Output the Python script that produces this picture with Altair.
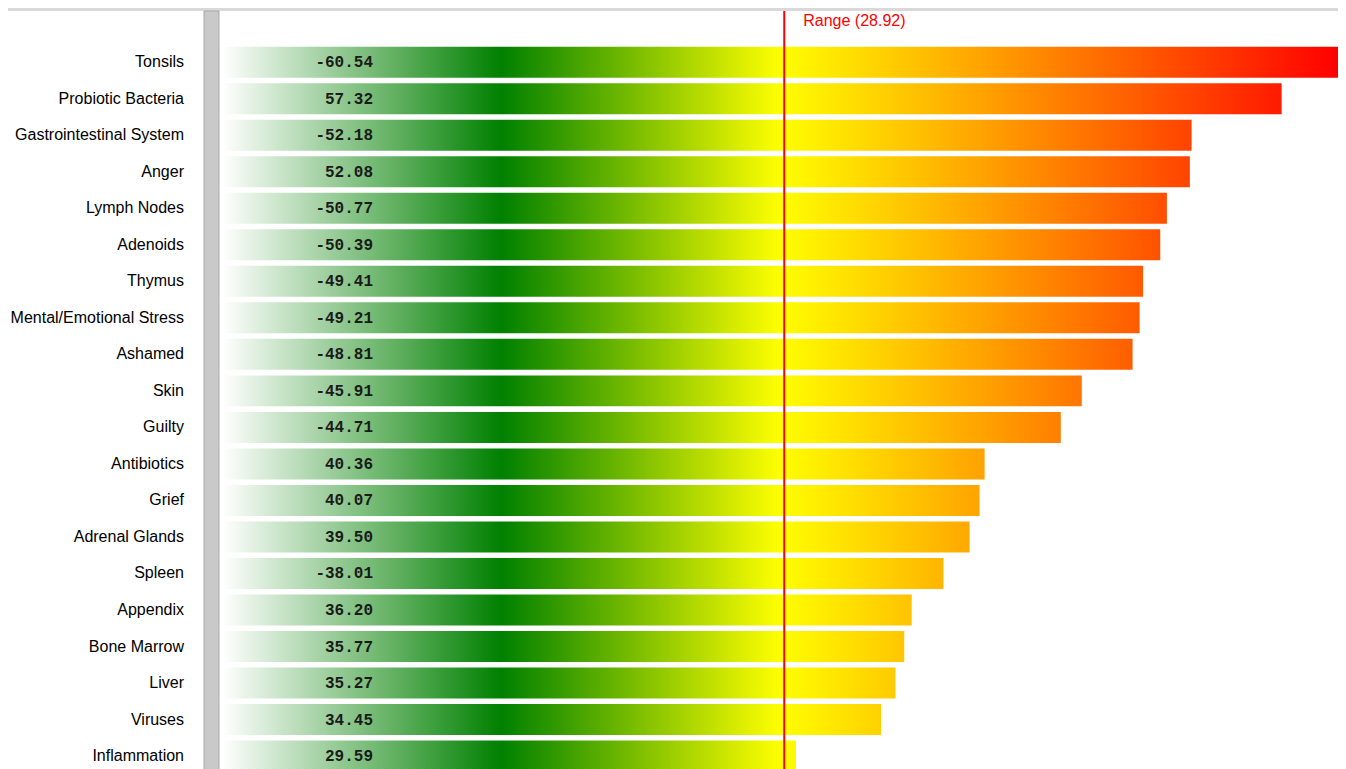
import altair as alt
import pandas as pd

names = [
    "Tonsils", "Probiotic Bacteria", "Gastrointestinal System", "Anger",
    "Lymph Nodes", "Adenoids", "Thymus", "Mental/Emotional Stress",
    "Ashamed", "Skin", "Guilty", "Antibiotics", "Grief", "Adrenal Glands",
    "Spleen", "Appendix", "Bone Marrow", "Liver", "Viruses", "Inflammation",
]
values = [
    -60.54, 57.32, -52.18, 52.08, -50.77, -50.39, -49.41, -49.21,
    -48.81, -45.91, -44.71, 40.36, 40.07, 39.50, -38.01, 36.20,
    35.77, 35.27, 34.45, 29.59,
]
range_value = 28.92

df = pd.DataFrame({"name": names, "value": values})
df["idx"] = list(range(len(names)))
df["absval"] = df["value"].abs()
df["label"] = [f"{v:.2f}" for v in values]

rng = pd.DataFrame({"range": [range_value], "text": [f"Range ({range_value:.2f})"]})

LEFT = 214
W, H = 1116, 761
x_scale = alt.Scale(domain=[-3.186, 60.54], nice=False, zero=False)
y_scale = alt.Scale(domain=[-1.4841, 19.354], nice=False, zero=False, reverse=True)
half = 0.4244
pad = 0.03

base = alt.Chart(df).transform_calculate(
    lo=f"datum.idx - {half}", hi=f"datum.idx + {half}",
    clo=f"datum.idx - {half + pad}", chi=f"datum.idx + {half + pad}",
).transform_joinaggregate(maxv="max(absval)")

grad = alt.Gradient(
    gradient="linear",
    x1=0, x2=1, y1=0, y2=0,
    stops=[
        alt.GradientStop(offset=0, color="#ffffff"),
        alt.GradientStop(offset=0.25, color="#008000"),
        alt.GradientStop(offset=0.5, color="#ffff00"),
        alt.GradientStop(offset=1, color="#ff0000"),
    ],
)

full_bars = base.mark_bar(color=grad, strokeWidth=0).encode(
    x=alt.X("maxv:Q", scale=x_scale, axis=None),
    x2=alt.value(0),
    y=alt.Y("lo:Q", scale=y_scale, axis=None),
    y2="hi:Q",
)

cover = base.mark_bar(color="#ffffff", strokeWidth=0).encode(
    x=alt.X("absval:Q", scale=x_scale, axis=None),
    x2=alt.value(W + 10),
    y=alt.Y("clo:Q", scale=y_scale, axis=None),
    y2="chi:Q",
)

# decorations
top_strip = alt.Chart(rng).mark_rect(color="#d9d9d9").encode(
    x=alt.value(-LEFT), x2=alt.value(W), y=alt.value(0), y2=alt.value(3)
)
side_bar = alt.Chart(rng).mark_rect(fill="#c9c9c9", stroke="#a9a9a9", strokeWidth=1).encode(
    x=alt.value(-18), x2=alt.value(-3), y=alt.value(3), y2=alt.value(H + 5)
)

range_rule = alt.Chart(rng).mark_rule(color="#ff0000", strokeWidth=2).encode(
    x=alt.X("range:Q", scale=x_scale, axis=None),
    y=alt.value(3),
    y2=alt.value(H + 5),
)
range_text = alt.Chart(rng).mark_text(
    align="left", baseline="alphabetic", dx=19, color="#ff0000",
    font="Liberation Sans", fontSize=16,
).encode(
    x=alt.X("range:Q", scale=x_scale, axis=None),
    y=alt.value(18),
    text="text:N",
)

name_text = alt.Chart(df).mark_text(
    align="right", baseline="middle", color="#000000",
    font="Liberation Sans", fontSize=16,
).encode(
    x=alt.value(-38),
    y=alt.Y("idx:Q", scale=y_scale, axis=None),
    text="name:N",
)

val_text = alt.Chart(df).mark_text(
    align="right", baseline="middle", color="#1a1a1a",
    font="Liberation Mono", fontSize=16, fontWeight="bold",
).encode(
    x=alt.value(151),
    y=alt.Y("idx:Q", scale=y_scale, axis=None),
    text="label:N",
)

chart = alt.layer(
    top_strip, side_bar, full_bars, cover, range_rule, range_text, name_text, val_text
).properties(
    width=W, height=H,
    autosize=alt.AutoSizeParams(type="none"),
    padding={"left": LEFT, "top": 0, "right": 0, "bottom": 0},
).configure_view(stroke=None)

chart.save("out.html", embed_options={"renderer": "svg", "actions": False})
